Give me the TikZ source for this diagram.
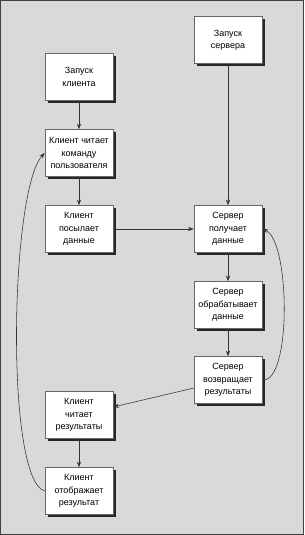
\documentclass[tikz,border=0pt]{standalone}
\usepackage{fontspec}
\setmainfont{Liberation Sans}
\usetikzlibrary{shadows,arrows.meta}
\tikzset{
    stepbox/.style={draw=black!60, fill=white, align=center, inner sep=1pt,
        minimum width=1.7cm, minimum height=1.175cm,
        font=\fontsize{6.4}{8.8}\selectfont,
        drop shadow={shadow xshift=2pt, shadow yshift=-2pt, fill=black!85, opacity=1}},
    link/.style={->, draw=black!80},
}
\begin{document}
\begin{tikzpicture}[x=0.025cm, y=-0.025cm, >={Stealth[length=4pt,width=3pt]}]
    % background
        \useasboundingbox (0,0) rectangle (304,535);
        \draw[fill=black!15, draw=black!75, line width=1.2pt] (0.6,0.6) rectangle (303.4,534.4);
    % client
        \foreach \n/\y/\t in {startc/77/{Запуск\\клиента},
                              readcmd/153/{Клиент читает\\команду\\пользователя},
                              send/229/{Клиент\\посылает\\данные},
                              readres/415/{Клиент\\читает\\результаты},
                              show/491/{Клиент\\отображает\\результат}}{
            \node[stepbox] (\n) at (79,\y) {\t};
        }
    % server
        \foreach \n/\y/\t in {starts/40/{Запуск\\сервера},
                              recv/229/{Сервер\\получает\\данные},
                              proc/305/{Сервер\\обрабатывает\\данные},
                              ret/380/{Сервер\\возвращает\\результаты}}{
            \node[stepbox] (\n) at (228,\y) {\t};
        }
    % arrows
        \foreach \a/\b in {startc/readcmd,readcmd/send,starts/recv,send/recv,
                           recv/proc,proc/ret,ret/readres,readres/show}{
            \draw[link] (\a) -- (\b);
        }
        \draw[link] (show.west) .. controls (5,480) and (10,190) .. (readcmd.west);
        \draw[link] (ret.east) .. controls (292,383) and (290,240) .. (recv.east);
\end{tikzpicture}
\end{document}
